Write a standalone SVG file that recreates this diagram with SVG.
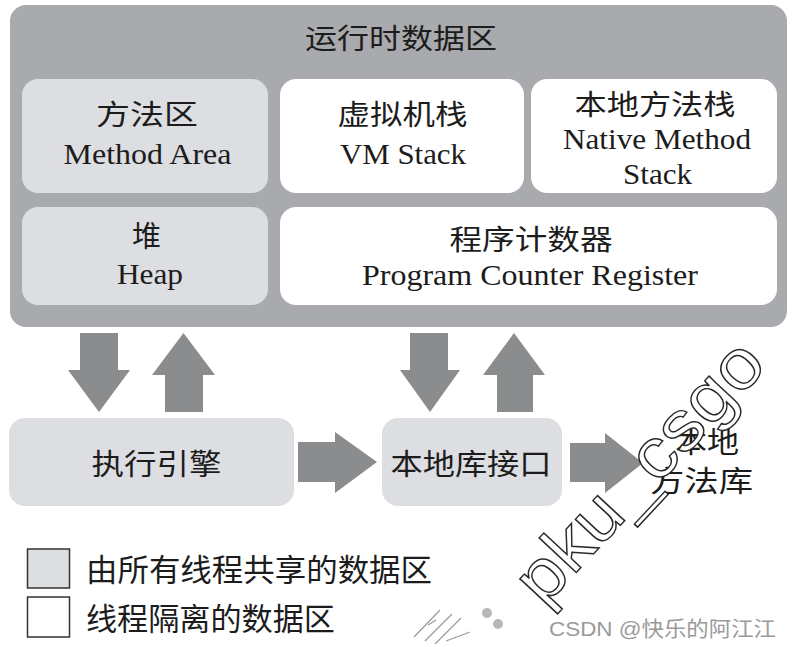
<svg xmlns="http://www.w3.org/2000/svg" width="794" height="647" viewBox="0 0 794 647">
<style>
.cjk{font-family:"Noto Sans CJK SC","Noto Sans",sans-serif;fill:#1c1c1c;text-anchor:middle}
.lat{font-family:"Liberation Serif","Noto Sans CJK SC",serif;fill:#1c1c1c;text-anchor:middle}
.shared{fill:#dcdee1}
.priv{fill:#ffffff}
.arrow{fill:#8b8c8e}
</style>
<rect width="794" height="647" fill="#ffffff"/>
<g id="runtime-data-area">
<rect x="10" y="5" width="777" height="322" rx="16" fill="#a8aaad"/>
<text class="cjk" x="401" y="49" font-size="28" textLength="192" lengthAdjust="spacingAndGlyphs">运行时数据区</text>
</g>
<g id="method-area">
<rect class="shared" x="22" y="79" width="246" height="114" rx="16"/>
<text class="cjk" x="147" y="125" font-size="28" textLength="102" lengthAdjust="spacingAndGlyphs">方法区</text>
<text class="lat" x="147.5" y="164" font-size="30" textLength="168" lengthAdjust="spacingAndGlyphs">Method Area</text>
</g>
<g id="vm-stack">
<rect class="priv" x="280" y="79" width="244" height="114" rx="16"/>
<text class="cjk" x="402.5" y="125" font-size="28" textLength="130" lengthAdjust="spacingAndGlyphs">虚拟机栈</text>
<text class="lat" x="403" y="164" font-size="30" textLength="126" lengthAdjust="spacingAndGlyphs">VM Stack</text>
</g>
<g id="native-method-stack">
<rect class="priv" x="531" y="79" width="246" height="114" rx="16"/>
<text class="cjk" x="655" y="115" font-size="28" textLength="161" lengthAdjust="spacingAndGlyphs">本地方法栈</text>
<text class="lat" x="657" y="149" font-size="30" textLength="188" lengthAdjust="spacingAndGlyphs">Native Method</text>
<text class="lat" x="657.5" y="184" font-size="30" textLength="69" lengthAdjust="spacingAndGlyphs">Stack</text>
</g>
<g id="heap">
<rect class="shared" x="22" y="207" width="246" height="98" rx="16"/>
<text class="cjk" x="146.5" y="247" font-size="29">堆</text>
<text class="lat" x="150" y="284" font-size="30" textLength="66" lengthAdjust="spacingAndGlyphs">Heap</text>
</g>
<g id="program-counter-register">
<rect class="priv" x="280" y="207" width="497" height="98" rx="16"/>
<text class="cjk" x="531" y="250" font-size="28" textLength="163" lengthAdjust="spacingAndGlyphs">程序计数器</text>
<text class="lat" x="530" y="285" font-size="30" textLength="336" lengthAdjust="spacingAndGlyphs">Program Counter Register</text>
</g>
<g id="execution-engine">
<rect class="shared" x="9" y="418" width="285" height="88" rx="16"/>
<text class="cjk" x="156.5" y="475" font-size="29" textLength="130" lengthAdjust="spacingAndGlyphs">执行引擎</text>
</g>
<g id="native-interface">
<rect class="shared" x="382" y="418" width="180" height="88" rx="16"/>
<text class="cjk" x="471" y="475" font-size="29" textLength="161" lengthAdjust="spacingAndGlyphs">本地库接口</text>
</g>
<g id="native-method-library">
<text class="cjk" x="707" y="453" font-size="29" textLength="64" lengthAdjust="spacingAndGlyphs">本地</text>
<text class="cjk" x="701.5" y="492" font-size="29" textLength="103" lengthAdjust="spacingAndGlyphs">方法库</text>
</g>
<g id="connectors">
<polygon class="arrow" points="80,333 118,333 118,370 130,370 99,412 68,370 80,370"/>
<polygon class="arrow" points="183.5,333 215,375 203,375 203,412 165,412 165,375 152,375"/>
<polygon class="arrow" points="410,333 448,333 448,370 460,370 430,412 400,370 410,370"/>
<polygon class="arrow" points="514,333 545,375 533,375 533,412 497,412 497,375 483,375"/>
<polygon class="arrow" points="298,442 335,442 335,432 377,462 335,493 335,482 298,482"/>
<polygon class="arrow" points="570,443 605,443 605,433 643,463 605,493 605,482 570,482"/>
</g>
<g id="legend">
<rect x="27.5" y="549" width="42" height="39" fill="#dcdee1" stroke="#333" stroke-width="1.5"/>
<text x="86" y="581" font-size="31" font-family="Noto Sans CJK SC, sans-serif" fill="#1c1c1c" textLength="346" lengthAdjust="spacingAndGlyphs">由所有线程共享的数据区</text>
<rect x="27.5" y="597" width="42" height="40" fill="#ffffff" stroke="#333" stroke-width="1.5"/>
<text x="86" y="630" font-size="31" font-family="Noto Sans CJK SC, sans-serif" fill="#1c1c1c" textLength="249" lengthAdjust="spacingAndGlyphs">线程隔离的数据区</text>
</g>
<g id="watermark">
<g transform="translate(640,472) rotate(-47)">
<text x="0" y="22" font-size="70" font-family="Liberation Sans, sans-serif" fill="#ffffff" stroke="#2a2a2a" stroke-width="1.4" text-anchor="middle" textLength="330" lengthAdjust="spacingAndGlyphs">pku_csgo</text>
</g>
<g stroke="#9a9a9a" stroke-width="1.2" fill="none">
<path d="M414,637 L440,610 M425,641 L452,614 M435,644 L461,618"/>
<path d="M428,625 L436,620 M446,641 L470,632"/>
</g>
<circle cx="487" cy="613" r="5" fill="#b8b8b8"/>
<circle cx="498" cy="624" r="5" fill="#b8b8b8"/>
<text x="549" y="636" font-size="21" font-family="Liberation Sans, Noto Sans CJK SC, sans-serif" fill="#9a9a9a" textLength="227" lengthAdjust="spacingAndGlyphs">CSDN @快乐的阿江江</text>
</g>
</svg>
